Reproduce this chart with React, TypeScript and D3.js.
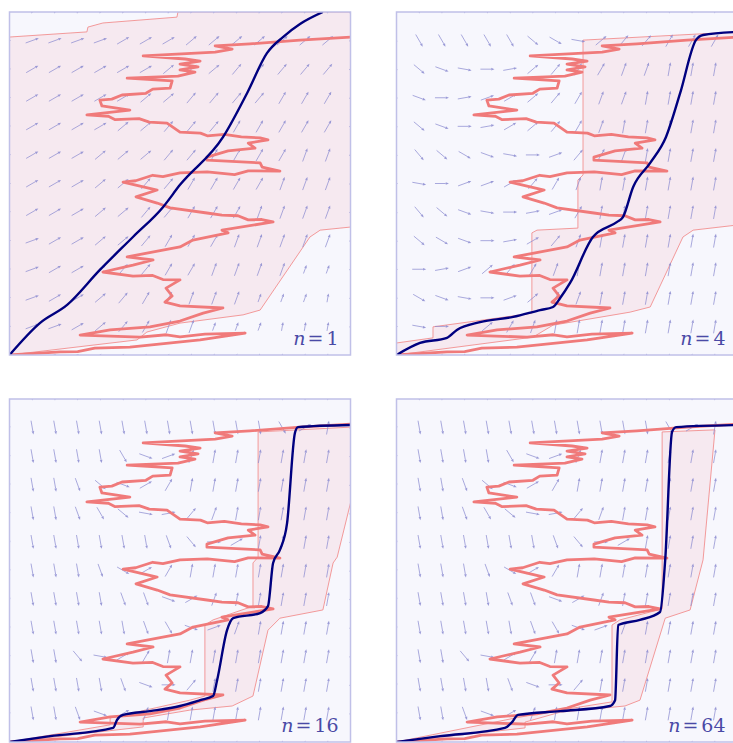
import React, { useRef, useEffect } from 'react';
import * as d3 from 'd3';

type Pt = [number, number];

// all values in panel units: x 0..100 left to right, y 0..100 bottom to top

// the wiggly red path, the same in every panel
const redPath: Pt[] = [
  [100, 92.7], [85.2, 91.8], [70.5, 90.7], [60.3, 90.1], [65.3, 89.2], [60.3, 88.3], [39.2, 87.2],
  [51.5, 86.3], [55.9, 85.7], [50.0, 84.8], [55.3, 84.0], [50.0, 83.1], [54.4, 82.5], [49.4, 81.3],
  [34.5, 80.7], [47.7, 79.9], [47.1, 77.8], [42.0, 77.5], [40.0, 76.3], [33.0, 75.8], [30.0, 74.6],
  [26.5, 74.3], [27.1, 72.6], [35.3, 71.4], [22.7, 70.0], [29.0, 69.6], [31.0, 68.6], [38.0, 68.9],
  [41.0, 67.9], [46.2, 67.6], [50.0, 65.0], [56.0, 64.7], [58.0, 63.9], [63.0, 64.3], [68.0, 63.6],
  [73.5, 63.3], [75.8, 62.7], [70.0, 61.8], [72.0, 60.3], [64.1, 59.5], [57.9, 57.7], [57.9, 56.8],
  [73.5, 56.0], [74.1, 54.8], [79.3, 53.6], [70.0, 53.7], [66.0, 52.6], [58.0, 53.4], [50.0, 53.1],
  [45.0, 52.0], [42.0, 52.4], [37.0, 50.8], [33.3, 50.4], [43.3, 48.1], [37.1, 46.1], [43.3, 44.3],
  [47.1, 42.9], [57.9, 41.4], [62.3, 40.8], [67.0, 40.6], [70.0, 39.4], [74.0, 39.5], [77.3, 38.8],
  [62.3, 36.4], [64.1, 35.6], [53.8, 33.5], [50.0, 31.5], [40.3, 29.7], [34.5, 28.6], [42.1, 27.7],
  [36.2, 26.2], [27.4, 24.2], [36.2, 23.0], [42.0, 23.2], [45.0, 22.0], [50.0, 21.9], [45.9, 19.5],
  [47.7, 17.2], [45.6, 15.4], [50.0, 14.3], [62.6, 13.7], [56.8, 12.2], [50.0, 9.9], [41.2, 8.2],
  [29.5, 7.3], [20.7, 5.8], [38.3, 5.2], [46.0, 5.9], [50.0, 5.3], [57.3, 6.1], [69.1, 6.4],
  [55.9, 4.4], [35.3, 2.3], [25.0, 2.0], [20.0, 1.0], [14.8, 0.9], [0, 0],
];

// navy curves
const navyN1: Pt[] = [
  [0, 0], [8.9, 9.3], [16.9, 14.6], [26.5, 24.8], [36.2, 34.4], [45.0, 43.1], [50.0, 49.6],
  [62.6, 63.5], [69.7, 76.4], [75.5, 88.0], [80.2, 92.7], [85.2, 96.5], [91.9, 100],
];
const navyN4: Pt[] = [
  [0, 0], [6.9, 3.5], [14.8, 5.0], [17.7, 7.3], [24.5, 9.6], [34.2, 11.1], [42.1, 13.1], [45.9, 14.0],
  [48.0, 16.6], [50.9, 21.0], [57.6, 34.4], [64.7, 38.8], [66.4, 40.2], [69.4, 49.0], [74.4, 56.0],
  [79.0, 63.5], [83.2, 76.4], [87.8, 91.8], [89.9, 93.3], [100, 94.2],
];
const navyN16: Pt[] = [
  [0, 0], [11.9, 1.7], [30.4, 4.1], [31.5, 6.4], [33.3, 7.9], [41.2, 9.0], [50.0, 10.5], [55.9, 12.2],
  [59.7, 13.4], [60.9, 18.1], [63.8, 32.6], [65.6, 36.1], [73.5, 37.6], [75.8, 39.6], [77.3, 52.2],
  [79.3, 56.0], [81.4, 63.8], [83.7, 90.1], [84.6, 91.8], [100, 92.4],
];
const navyN64: Pt[] = [
  [0, 0], [12.8, 1.7], [31.8, 4.1], [33.9, 5.8], [35.6, 7.9], [48.0, 9.0], [62.6, 10.5], [64.1, 12.2],
  [65.0, 34.1], [71.4, 35.6], [77.3, 37.9], [78.8, 53.1], [80.8, 90.4], [82.0, 91.8], [100, 92.4],
];

// shaded bands
const regionN1: Pt[] = [
  [0, 92.7], [22.7, 94.2], [23.0, 95.6], [27.4, 96.8], [49.1, 98.5], [49.4, 100], [100, 100],
  [100, 37.3], [91.1, 36.4], [88.1, 34.4], [73.5, 13.1], [68.5, 11.7], [50.0, 9.3], [40.3, 6.7],
  [37.4, 4.4], [0, 0],
];
const regionN4: Pt[] = [
  [54.7, 91.8], [100, 94.2], [100, 37.9], [87.0, 36.4], [84.0, 34.4], [74.4, 14.0], [68.5, 12.5],
  [45.9, 8.7], [40.0, 5.2], [0, 0], [0, 3.5], [10.7, 5.0], [10.7, 8.2], [34.2, 11.4], [39.7, 12.2],
  [39.7, 35.6], [41.2, 36.4], [53.2, 37.0], [53.2, 51.0], [54.7, 52.5],
];
const regionN16: Pt[] = [
  [72.9, 90.4], [100, 91.8], [100, 69.7], [96.1, 53.9], [94.9, 52.2], [91.9, 38.5], [79.3, 36.1],
  [75.8, 32.6], [71.4, 13.4], [65.3, 10.5], [52.9, 9.3], [39.2, 7.0], [39.2, 4.4], [0, 0],
  [29.5, 5.0], [29.5, 7.0], [52.9, 12.2], [57.3, 13.4], [57.3, 34.1], [59.7, 35.6], [71.4, 39.6],
  [71.4, 52.2], [72.9, 53.9],
];
const regionN64: Pt[] = [
  [77.9, 90.4], [93.4, 91.0], [89.9, 53.1], [86.1, 38.5], [78.8, 36.1], [71.4, 12.2], [67.0, 10.5],
  [48.0, 8.7], [37.7, 5.8], [37.7, 4.1], [0, 0], [34.8, 7.0], [48.0, 9.3], [63.2, 11.7], [63.2, 34.1],
  [65.5, 35.6], [77.9, 38.8],
];

// arrow field, 13 rows (top to bottom) x 16 columns
// code letter = direction: A=-90deg, B=-80 ... J=0 ... S=90 (10 deg steps), lower case = short arrow
const fieldN1: string[] = [
  'llllllllllllllll',
  'lLLLLMMMNNNNNNNp',
  'lMMMMMMNNNOOOOOp',
  'lMMMMMNNOOOOPPPp',
  'lMMMMNNOOOPPPPPp',
  'lMMMNNNOOPPPPQQp',
  'lMMMNNOOPPPPQQQq',
  'lMMMNNOOPPPQQQQq',
  'lLMMNNOPPPQQQQQq',
  'lLMMNOOPPQQQQqqq',
  'lLMMNOPPQQQqqqrr',
  'lLLMNOPQQqqqrrrr',
  'mmmnooppqqqrrrrr',
];
const fieldN4: string[] = [
  'aaaaaaaaaaaaaaaa',
  'dDDDDDFGINOOPPPp',
  'fFHIJKNOPPQQRRRr',
  'hHJKLMNOPQQRRRRr',
  'fFHJKMNOPQRRRRRr',
  'eEFGHIJLOPQRRRRr',
  'iIJLLMOPQRRRRRRr',
  'eEFHIJKLPRRRRRRr',
  'fFGHJKMOQRRRRRRr',
  'jJKLNOPQRRRRRRRr',
  'gGHIJLNPQRRRRRRr',
  'iIJLNPQRRRRRRRRr',
  'rrrrrrrrrrrrrrrr',
];
const fieldN16: string[] = [
  'aaaaaaaaaaaaaaaa',
  'bBBBBBBBBBBBDMRr',
  'bBBBBDHLQRRRRRRr',
  'bBBCFHMPRRRRRRRr',
  'bBBCDFIKOQRRRRRr',
  'bBBBBBBCEJMRRRRr',
  'bBBBCGMPRRRRRRRr',
  'bBBBBCCHMQRRRRRr',
  'bBBBBBCDHLQRRRRr',
  'bBBEIMPRRRRRRRRr',
  'bBBBBCHJORRRRRRr',
  'bBBCHMQRRRRRRRRr',
  'rrrrrrrrrrrrrrrr',
];
const fieldN64: string[] = [
  'aaaaaaaaaaaaaaaa',
  'bBBBBBBBBBBBDMRr',
  'bBBBBDHLQRRRRRRr',
  'bBBCFHMPRRRRRRRr',
  'bBBCDFIKOQRRRRRr',
  'bBBBBBBCEJMRRRRr',
  'bBBBCGMPRRRRRRRr',
  'bBBBBCCHMQRRRRRr',
  'bBBBBBCDHLQRRRRr',
  'bBBEIMPRRRRRRRRr',
  'bBBBBCHJORRRRRRr',
  'bBBCHMQRRRRRRRRr',
  'rrrrrrrrrrrrrrrr',
];

const panelLabels = ['1', '4', '16', '64'];
const navyCurves = [navyN1, navyN4, navyN16, navyN64];
const regions = [regionN1, regionN4, regionN16, regionN64];
const fields = [fieldN1, fieldN4, fieldN16, fieldN64];

const CODES = 'ABCDEFGHIJKLMNOPQRS';

const App: React.FC = () => {
  const svgRef = useRef<SVGSVGElement>(null);

  useEffect(() => {
    if (!svgRef.current) return;
    const svg = d3.select(svgRef.current);
    svg.selectAll('*').remove();

    const pw = 341;
    const ph = 343;
    const origins: Pt[] = [[9.5, 12], [396.5, 12], [9.5, 399], [396.5, 399]];

    const x = d3.scaleLinear().domain([0, 100]).range([0, pw]);
    const y = d3.scaleLinear().domain([0, 100]).range([ph, 0]);
    const line = d3.line<Pt>().x(d => x(d[0])).y(d => y(d[1]));
    const closed = d3.line<Pt>().x(d => x(d[0])).y(d => y(d[1])).curve(d3.curveLinearClosed);
    const smooth = d3.line<Pt>().x(d => x(d[0])).y(d => y(d[1])).curve(d3.curveMonotoneX);

    const defs = svg.append('defs');

    origins.forEach((o, k) => {
      defs.append('clipPath').attr('id', `clip${k}`)
        .append('rect').attr('x', 0).attr('y', 0).attr('width', pw).attr('height', ph);

      const g = svg.append('g').attr('transform', `translate(${o[0]},${o[1]})`);
      g.append('rect')
        .attr('width', pw).attr('height', ph)
        .attr('fill', '#f7f7fd');

      const inner = g.append('g').attr('clip-path', `url(#clip${k})`);

      // shaded band
      inner.append('path')
        .attr('d', closed(regions[k]))
        .attr('fill', '#f6e9f0')
        .attr('stroke', '#f29090')
        .attr('stroke-width', 0.9)
        .attr('stroke-linejoin', 'round');

      // arrow field
      const rows = fields[k];
      const gx = d3.scaleLinear().domain([0, rows[0].length - 1]).range([0, 100]);
      const gy = d3.scaleLinear().domain([0, rows.length - 1]).range([100, 0]);
      const arrows = inner.append('g')
        .attr('stroke', '#8a8ad0')
        .attr('fill', '#8a8ad0')
        .attr('opacity', 0.85);
      rows.forEach((row, j) => {
        row.split('').forEach((ch, i) => {
          const idx = CODES.indexOf(ch.toUpperCase());
          const a = ((-90 + idx * 10) * Math.PI) / 180;
          const border = i === 0 || j === 0 || i === row.length - 1 || j === rows.length - 1;
          const len = border ? 3 : ch === ch.toUpperCase() ? 14 : 9;
          const ux = Math.cos(a);
          const uy = -Math.sin(a);
          const cx = x(gx(i));
          const cy = y(gy(j));
          const tx = cx + (ux * len) / 2;
          const ty = cy + (uy * len) / 2;
          const hs = border ? 2.6 : 3.2;
          const bx = tx - ux * hs;
          const by = ty - uy * hs;
          if (!border) {
            arrows.append('line')
              .attr('x1', cx - (ux * len) / 2).attr('y1', cy - (uy * len) / 2)
              .attr('x2', bx).attr('y2', by)
              .attr('stroke-width', 0.85);
          }
          arrows.append('path')
            .attr('stroke', 'none')
            .attr('d', `M${tx},${ty}L${bx - uy * hs * 0.42},${by + ux * hs * 0.42}L${bx + uy * hs * 0.42},${by - ux * hs * 0.42}Z`);
        });
      });

      // red path
      inner.append('path')
        .attr('d', line(redPath))
        .attr('fill', 'none')
        .attr('stroke', '#f07a7a')
        .attr('stroke-width', 2.8)
        .attr('stroke-linejoin', 'round')
        .attr('stroke-linecap', 'round');

      // navy curve
      inner.append('path')
        .attr('d', smooth(navyCurves[k]))
        .attr('fill', 'none')
        .attr('stroke', '#00007f')
        .attr('stroke-width', 2.4)
        .attr('stroke-linejoin', 'round');

      // label
      const label = g.append('text')
        .attr('x', pw - 12)
        .attr('y', ph - 10)
        .attr('text-anchor', 'end')
        .attr('font-family', '"DejaVu Serif", serif')
        .attr('font-size', 19)
        .attr('fill', '#4a4aa6');
      label.append('tspan').attr('font-style', 'italic').text('n');
      label.append('tspan').attr('dx', 2).text('=');
      label.append('tspan').attr('dx', 3).text(panelLabels[k]);

      // frame
      g.append('rect')
        .attr('width', pw).attr('height', ph)
        .attr('fill', 'none')
        .attr('stroke', '#c0c0e8')
        .attr('stroke-width', 1.5);
    });
  }, []);

  return (
    <svg
      ref={svgRef}
      width={733}
      height={743}
      style={{ position: 'absolute', left: 0, top: 0, background: '#ffffff' }}
    />
  );
};

export default App;
